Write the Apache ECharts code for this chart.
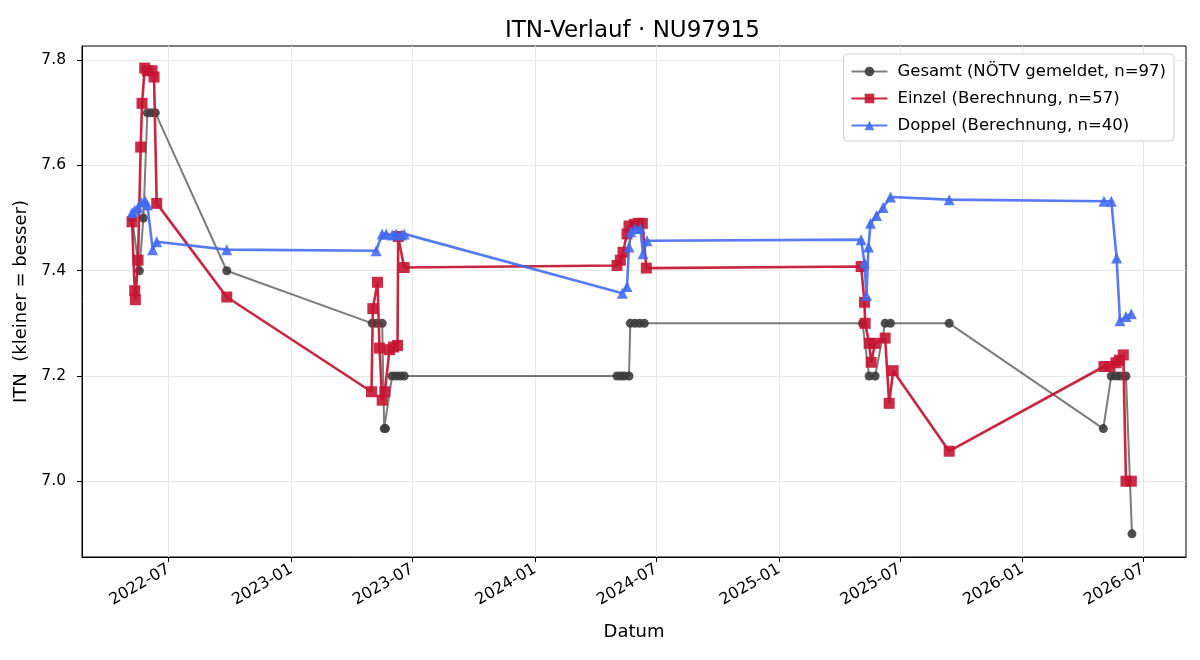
<!DOCTYPE html>
<html>
<head>
<meta charset="utf-8">
<script src="https://cdn.jsdelivr.net/npm/echarts@6/dist/echarts.min.js"></script>
<style>
  html, body { margin: 0; padding: 0; background: #fff; }
  #chart { width: 1200px; height: 660px; }
</style>
</head>
<body>
<div id="chart"></div>
<script>
// Gesamt (NÖTV gemeldet)
var gesamtDates = ['2022-05-07','2022-05-18','2022-05-24','2022-05-30','2022-06-05','2022-06-11','2022-09-26',
  '2023-05-02','2023-05-08','2023-05-17','2023-05-20','2023-05-22','2023-06-01','2023-06-07','2023-06-13','2023-06-19',
  '2024-05-03','2024-05-09','2024-05-14','2024-05-21','2024-05-23','2024-05-30','2024-06-06','2024-06-13',
  '2025-05-06','2025-05-16','2025-05-25','2025-06-09','2025-06-17','2025-09-13',
  '2026-05-02','2026-05-14','2026-05-21','2026-05-27','2026-06-05','2026-06-14'];
var gesamtVals = [7.5, 7.4, 7.5, 7.7, 7.7, 7.7, 7.4,
  7.3, 7.3, 7.3, 7.1, 7.1, 7.2, 7.2, 7.2, 7.2,
  7.2, 7.2, 7.2, 7.2, 7.3, 7.3, 7.3, 7.3,
  7.3, 7.2, 7.2, 7.3, 7.3, 7.3,
  7.1, 7.2, 7.2, 7.2, 7.2, 6.9];

// Einzel (Berechnung)
var einzelDates = ['2022-05-07','2022-05-11','2022-05-12','2022-05-16','2022-05-20','2022-05-22','2022-05-26','2022-05-30','2022-06-06','2022-06-09','2022-06-13','2022-09-26',
  '2023-05-01','2023-05-03','2023-05-10','2023-05-13','2023-05-17','2023-05-21','2023-05-28','2023-06-03','2023-06-09','2023-06-10','2023-06-19',
  '2024-05-03','2024-05-08','2024-05-12','2024-05-18','2024-05-21','2024-05-29','2024-06-04','2024-06-10','2024-06-16',
  '2025-05-04','2025-05-09','2025-05-10','2025-05-16','2025-05-19','2025-05-25','2025-06-09','2025-06-15','2025-06-21','2025-09-13',
  '2026-05-03','2026-05-12','2026-05-21','2026-05-26','2026-06-01','2026-06-05','2026-06-13'];
var einzelVals = [7.493, 7.362, 7.345, 7.42, 7.635, 7.718, 7.785, 7.78, 7.78, 7.768, 7.528, 7.35,
  7.17, 7.328, 7.378, 7.253, 7.154, 7.17, 7.25, 7.255, 7.258, 7.465, 7.406,
  7.41, 7.42, 7.435, 7.47, 7.485, 7.488, 7.49, 7.49, 7.405,
  7.408, 7.34, 7.30, 7.262, 7.226, 7.262, 7.272, 7.148, 7.21, 7.057,
  7.218, 7.218, 7.225, 7.23, 7.24, 7.0, 7.0];

// Doppel (Berechnung)
var doppelDates = ['2022-05-07','2022-05-11','2022-05-16','2022-05-21','2022-05-27','2022-05-30','2022-06-07','2022-06-13','2022-09-26',
  '2023-05-08','2023-05-17','2023-05-23','2023-06-01','2023-06-07','2023-06-15','2023-06-19',
  '2024-05-11','2024-05-18','2024-05-21','2024-05-24','2024-05-30','2024-06-07','2024-06-11','2024-06-17',
  '2025-05-04','2025-05-09','2025-05-12','2025-05-15','2025-05-18','2025-05-27','2025-06-06','2025-06-17','2025-09-13',
  '2026-05-03','2026-05-14','2026-05-22','2026-05-27','2026-06-05','2026-06-13'];
var doppelVals = [7.51, 7.515, 7.52, 7.53, 7.532, 7.525, 7.44, 7.455, 7.44,
  7.438, 7.47, 7.47, 7.468, 7.47, 7.468, 7.47,
  7.357, 7.37, 7.445, 7.474, 7.48, 7.48, 7.432, 7.457,
  7.459, 7.415, 7.353, 7.445, 7.49, 7.505, 7.52, 7.54, 7.535,
  7.532, 7.532, 7.424, 7.305, 7.313, 7.318];

var xTicks = ['2022-07-01','2023-01-01','2023-07-01','2024-01-01','2024-07-01','2025-01-01','2025-07-01','2026-01-01','2026-07-01'];
var yTicks = [7.0, 7.2, 7.4, 7.6, 7.8];

function ts(s) {
  var p = s.split('-');
  return Date.UTC(+p[0], +p[1] - 1, +p[2]);
}

function pairs(dates, vals) {
  var out = [];
  for (var i = 0; i < dates.length; i++) {
    out.push([ts(dates[i]), vals[i]]);
  }
  return out;
}

var font = 'DejaVu Sans';
var myChart = echarts.init(document.getElementById('chart'), null, {renderer: 'canvas'});

var option = {
  animation: false,
  backgroundColor: '#fff',
  title: {
    text: 'ITN-Verlauf · NU97915',
    left: 500,
    top: 15,
    textStyle: {fontFamily: font, fontSize: 23, fontWeight: 'normal', color: '#000'}
  },
  legend: {
    orient: 'vertical',
    right: 26,
    top: 54,
    padding: [9, 8, 7, 7],
    itemGap: 10,
    itemWidth: 36,
    itemHeight: 12,
    backgroundColor: '#fff',
    borderColor: '#d0d0d0',
    borderWidth: 1,
    borderRadius: 4,
    textStyle: {fontFamily: font, fontSize: 16.5, color: '#000', padding: [0, 0, 0, 5]},
    data: ['Gesamt (NÖTV gemeldet, n=97)', 'Einzel (Berechnung, n=57)', 'Doppel (Berechnung, n=40)']
  },
  grid: {
    left: 82, right: 14, top: 46, bottom: 103,
    show: true, borderColor: '#000', borderWidth: 1
  },
  xAxis: {
    type: 'value',
    min: ts('2022-02-21'),
    max: ts('2026-09-03'),
    name: 'Datum',
    nameLocation: 'middle',
    nameGap: 66,
    nameTextStyle: {fontFamily: font, fontSize: 18, color: '#000'},
    axisLine: {show: true, onZero: false, lineStyle: {color: '#000', width: 1}},
    axisTick: {show: true, length: 5, lineStyle: {color: '#000'}, customValues: xTicks.map(ts)},
    axisLabel: {
      customValues: xTicks.map(ts),
      rotate: 30,
      margin: 11,
      fontFamily: font, fontSize: 16, color: '#000',
      formatter: function (v) {
        var d = new Date(v);
        var m = d.getUTCMonth() + 1;
        return d.getUTCFullYear() + '-' + (m < 10 ? '0' + m : m);
      }
    },
    splitLine: {show: true, lineStyle: {color: '#e8e8e8', width: 1}}
  },
  yAxis: {
    type: 'value',
    min: 6.856,
    max: 7.827,
    name: 'ITN  (kleiner = besser)',
    nameLocation: 'middle',
    nameGap: 44,
    nameTextStyle: {fontFamily: font, fontSize: 18, color: '#000'},
    axisLine: {show: true, onZero: false, lineStyle: {color: '#000', width: 1}},
    axisTick: {show: true, length: 5, lineStyle: {color: '#000'}, customValues: yTicks},
    axisLabel: {
      customValues: yTicks,
      fontFamily: font, fontSize: 15.5, color: '#000', margin: 16,
      formatter: function (v) { return v.toFixed(1); }
    },
    splitLine: {show: true, lineStyle: {color: '#e8e8e8', width: 1}}
  },
  series: [
    {
      name: 'Gesamt (NÖTV gemeldet, n=97)',
      type: 'line',
      data: pairs(gesamtDates, gesamtVals),
      symbol: 'circle',
      symbolSize: 9,
      lineStyle: {color: 'rgba(68,68,68,0.7)', width: 2},
      itemStyle: {color: 'rgba(60,60,60,0.9)'},
      z: 2
    },
    {
      name: 'Einzel (Berechnung, n=57)',
      type: 'line',
      data: pairs(einzelDates, einzelVals),
      symbol: 'rect',
      symbolSize: 11,
      lineStyle: {color: 'rgba(196,20,50,0.92)', width: 2.6},
      itemStyle: {color: 'rgba(196,20,50,0.9)'},
      z: 3
    },
    {
      name: 'Doppel (Berechnung, n=40)',
      type: 'line',
      data: pairs(doppelDates, doppelVals),
      symbol: 'triangle',
      symbolSize: 11,
      lineStyle: {color: 'rgba(65,105,240,0.88)', width: 2.6},
      itemStyle: {color: 'rgba(65,105,240,0.88)'},
      z: 4
    }
  ]
};

myChart.setOption(option);
</script>
</body>
</html>
